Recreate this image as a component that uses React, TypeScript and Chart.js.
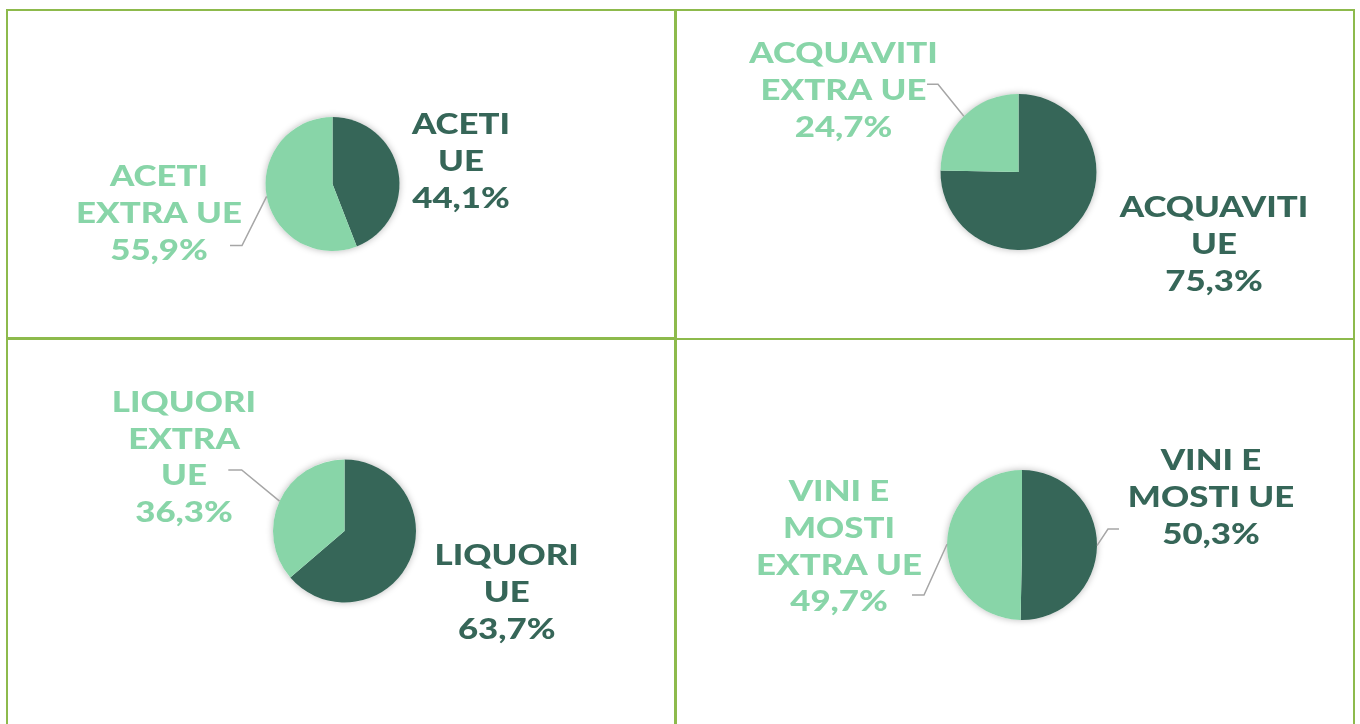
import { useEffect, useRef } from "react";
import { Chart, registerables } from "chart.js";

Chart.register(...registerables);

// ---------- data ----------
const categories = ["ACETI", "ACQUAVITI", "LIQUORI", "VINI E MOSTI"];
const ueShare = [44.1, 75.3, 63.7, 50.3];
const extraUeShare = [55.9, 24.7, 36.3, 49.7];
const ueLabelLines = [["ACETI", "UE"], ["ACQUAVITI", "UE"], ["LIQUORI", "UE"], ["VINI E", "MOSTI UE"]];
const extraUeLabelLines = [
  ["ACETI", "EXTRA UE"],
  ["ACQUAVITI", "EXTRA UE"],
  ["LIQUORI", "EXTRA", "UE"],
  ["VINI E", "MOSTI", "EXTRA UE"],
];

// ---------- style / layout ----------
const DARK = "#366658";
const LIGHT = "#88D5A8";
const BORDER = "#8DBA4C";
const LEADER = "#A6A6A6";
const FONT = "900 29px Lato";
const LINE_H = 36.8;
const STRETCH = 1.2;

// panel rectangles in page coordinates
const panels = [
  { x: 8, y: 11, w: 666, h: 326 },
  { x: 677, y: 11, w: 676, h: 326 },
  { x: 8, y: 340, w: 666, h: 384 },
  { x: 677, y: 340, w: 676, h: 384 },
];
// pie centre and radius in page coordinates
const pies = [
  { cx: 332.5, cy: 184, r: 67 },
  { cx: 1018.5, cy: 172, r: 78 },
  { cx: 344.5, cy: 531, r: 71.5 },
  { cx: 1022, cy: 545, r: 75 },
];
type LabelPos = { x: number; y: number; leader?: number[][] };
// [UE label, EXTRA UE label]: first line baseline centre; leader start + elbow
const labelPos: LabelPos[][] = [
  [{ x: 461, y: 134 }, { x: 159, y: 186, leader: [[230, 245.5], [242, 245.5]] }],
  [{ x: 1214, y: 217.3 }, { x: 843.5, y: 63.3, leader: [[927, 84.3], [938, 84.3]] }],
  [{ x: 506.7, y: 565 }, { x: 184, y: 411.7, leader: [[228.3, 470], [241.7, 470]] }],
  [
    { x: 1211, y: 470, leader: [[1119, 529], [1108, 529]] },
    { x: 839, y: 501, leader: [[912, 595], [924, 595]] },
  ],
];

const fmt = (v: number) => v.toFixed(1).replace(".", ",") + "%";

function PiePanel({ index }: { index: number }) {
  const ref = useRef<HTMLCanvasElement | null>(null);
  useEffect(() => {
    const canvas = ref.current;
    if (!canvas) return;
    const p = panels[index];
    const pie = pies[index];
    const padL = pie.cx - pie.r - p.x;
    const padT = pie.cy - pie.r - p.y;
    const padR = p.w - (pie.cx + pie.r - p.x);
    const padB = p.h - (pie.cy + pie.r - p.y);

    const shadowPlugin = {
      id: "shadow" + index,
      beforeDatasetsDraw(chart: any) {
        const arc = chart.getDatasetMeta(0).data[0];
        if (!arc) return;
        const { x, y, outerRadius } = arc.getProps(["x", "y", "outerRadius"], true);
        const ctx = chart.ctx;
        ctx.save();
        ctx.shadowColor = "rgba(0,0,0,0.28)";
        ctx.shadowBlur = 7;
        ctx.fillStyle = "#ffffff";
        ctx.beginPath();
        ctx.arc(x, y, outerRadius, 0, Math.PI * 2);
        ctx.fill();
        ctx.restore();
      },
    };

    const labelPlugin = {
      id: "labels" + index,
      afterDatasetsDraw(chart: any) {
        const ctx = chart.ctx;
        const meta = chart.getDatasetMeta(0);
        const texts = [
          [...ueLabelLines[index], fmt(ueShare[index])],
          [...extraUeLabelLines[index], fmt(extraUeShare[index])],
        ];
        const colors = [DARK, LIGHT];
        for (let i = 0; i < 2; i++) {
          const lp = labelPos[index][i];
          const arc = meta.data[i];
          if (lp.leader && arc) {
            const { x, y, outerRadius, startAngle, endAngle } = arc.getProps(
              ["x", "y", "outerRadius", "startAngle", "endAngle"],
              true
            );
            const mid = (startAngle + endAngle) / 2;
            const ex = x + Math.cos(mid) * outerRadius;
            const ey = y + Math.sin(mid) * outerRadius;
            ctx.save();
            ctx.strokeStyle = LEADER;
            ctx.lineWidth = 1.5;
            ctx.beginPath();
            ctx.moveTo(lp.leader[0][0] - p.x, lp.leader[0][1] - p.y);
            ctx.lineTo(lp.leader[1][0] - p.x, lp.leader[1][1] - p.y);
            ctx.lineTo(ex, ey);
            ctx.stroke();
            ctx.restore();
          }
          ctx.save();
          ctx.font = FONT;
          ctx.fillStyle = colors[i];
          ctx.textAlign = "center";
          ctx.textBaseline = "alphabetic";
          texts[i].forEach((line, k) => {
            ctx.save();
            ctx.translate(lp.x - p.x, 0);
            ctx.scale(STRETCH, 1);
            ctx.fillText(line, 0, lp.y - p.y + k * LINE_H);
            ctx.restore();
          });
          ctx.restore();
        }
      },
    };

    const chart = new Chart(canvas, {
      type: "pie",
      data: {
        labels: [categories[index] + " UE", categories[index] + " EXTRA UE"],
        datasets: [
          {
            data: [ueShare[index], extraUeShare[index]],
            backgroundColor: [DARK, LIGHT],
            borderWidth: 0,
          },
        ],
      },
      options: {
        responsive: false,
        animation: false,
        devicePixelRatio: 1,
        layout: { padding: { left: padL, right: padR, top: padT, bottom: padB } },
        plugins: { legend: { display: false }, tooltip: { enabled: false } },
      },
      plugins: [shadowPlugin, labelPlugin],
    } as any);
    let alive = true;
    if ((document as any).fonts && (document as any).fonts.load) {
      (document as any).fonts.load(FONT).then(() => {
        if (alive) chart.draw();
      });
    }
    return () => {
      alive = false;
      chart.destroy();
    };
  }, [index]);
  const p = panels[index];
  return (
    <canvas
      ref={ref}
      width={p.w}
      height={p.h}
      style={{ position: "absolute", left: p.x, top: p.y, width: p.w, height: p.h }}
    />
  );
}

export default function App() {
  const line = (l: number, t: number, w: number, h: number) => (
    <div style={{ position: "absolute", left: l, top: t, width: w, height: h, background: BORDER }} />
  );
  return (
    <div
      style={{
        position: "fixed",
        left: 0,
        top: 0,
        width: 1360,
        height: 724,
        background: "#ffffff",
        overflow: "hidden",
      }}
    >
      {[0, 1, 2, 3].map((i) => (
        <PiePanel key={i} index={i} />
      ))}
      {line(6, 9, 1349, 2)}
      {line(6, 9, 2, 720)}
      {line(674, 9, 2.5, 720)}
      {line(1353, 9, 2, 720)}
      {line(6, 337, 669, 3)}
      {line(675, 337.5, 680, 2)}
    </div>
  );
}
